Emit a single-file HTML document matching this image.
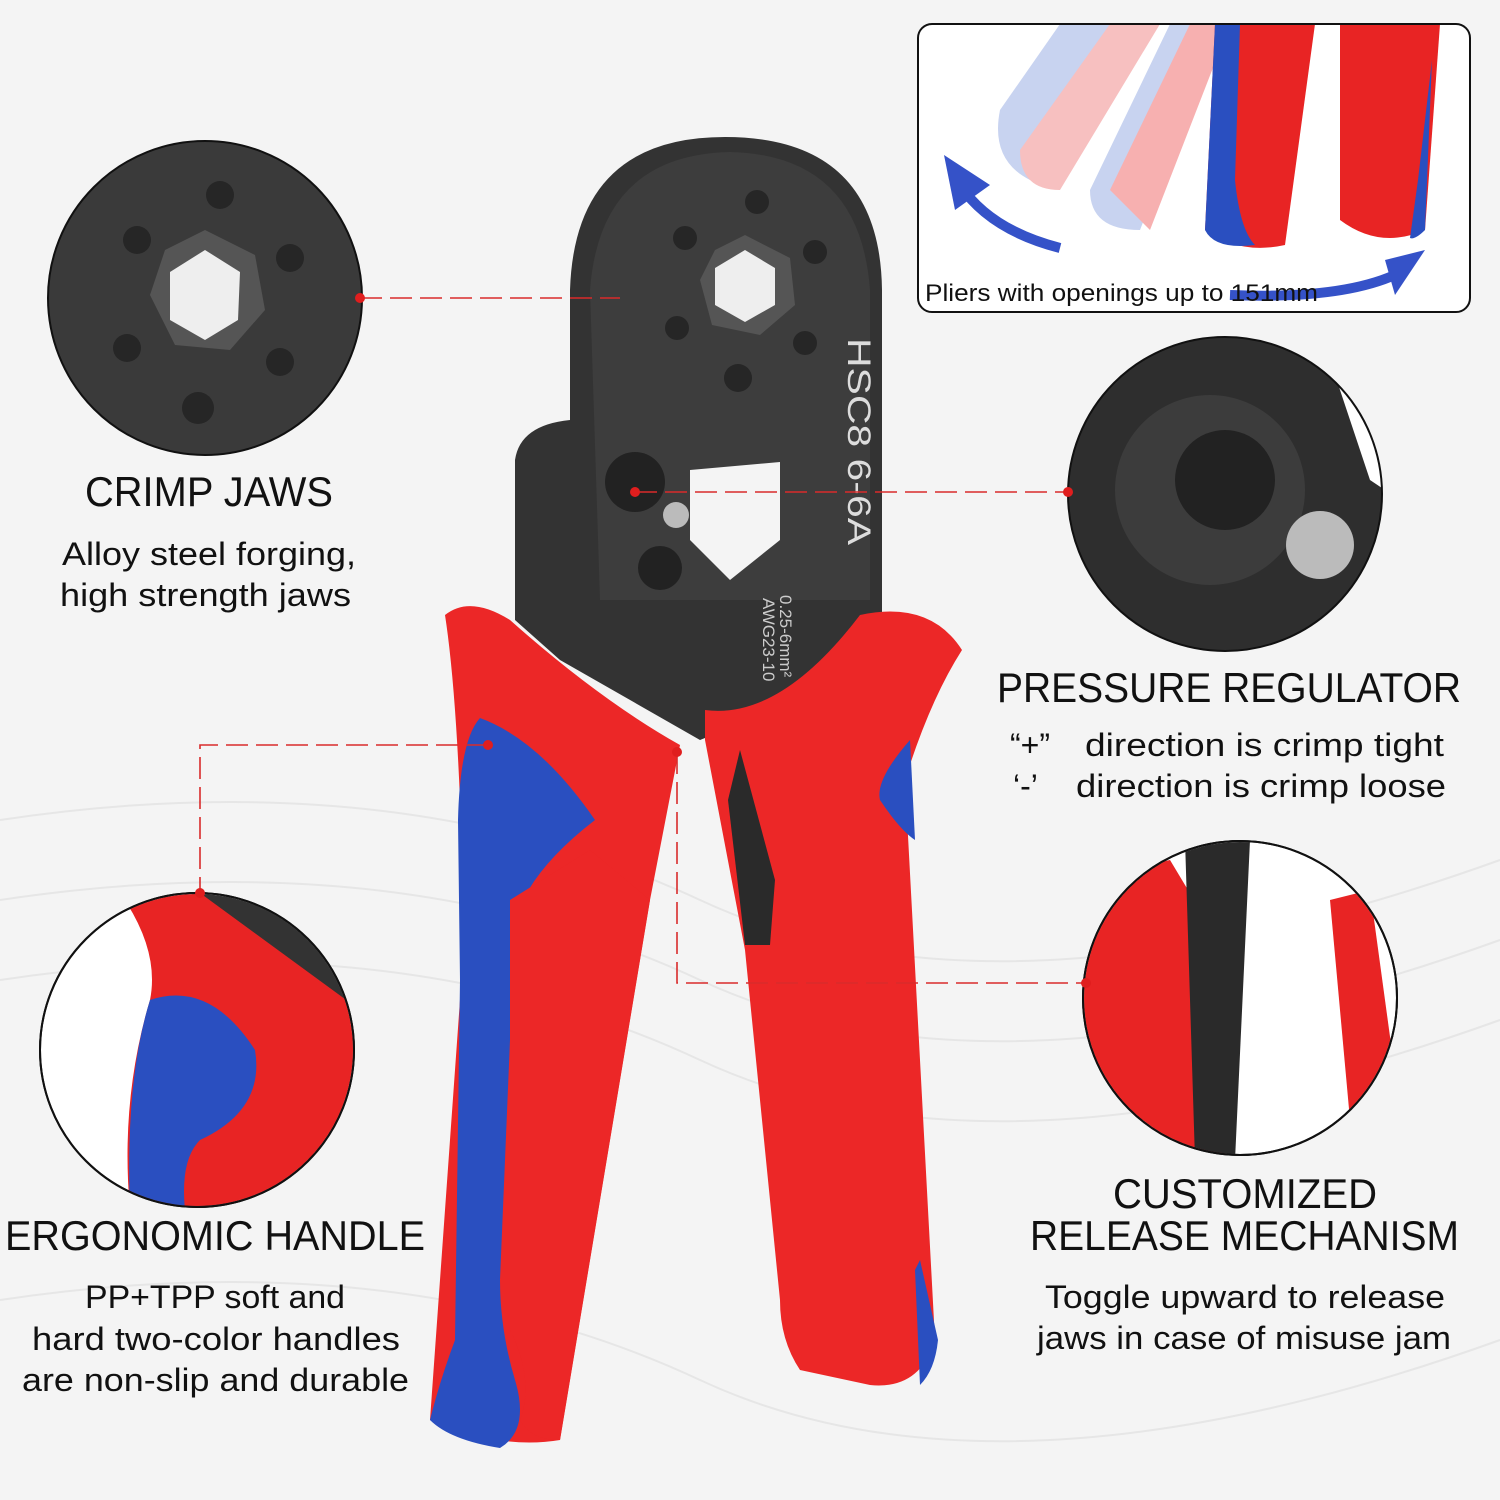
<!DOCTYPE html>
<html><head><meta charset="utf-8"><style>
html,body{margin:0;padding:0;background:#f4f4f4}
svg{display:block}
text{font-family:"Liberation Sans",sans-serif;fill:#111}
</style></head><body>
<svg width="1500" height="1500" viewBox="0 0 1500 1500" xmlns="http://www.w3.org/2000/svg">
<defs>
<clipPath id="c2"><circle cx="1225" cy="494" r="156"/></clipPath>
<clipPath id="c3"><circle cx="1240" cy="998" r="156"/></clipPath>
<clipPath id="c4"><circle cx="197" cy="1050" r="156"/></clipPath>
<clipPath id="box"><rect x="918" y="24" width="552" height="288" rx="14"/></clipPath>
</defs>
<rect width="1500" height="1500" fill="#f4f4f4"/>
<g stroke="#e6e6e6" stroke-width="2" fill="none">
<path d="M0 820 Q400 760 700 900 T1500 860"/><path d="M0 900 Q400 840 700 980 T1500 940"/>
<path d="M0 980 Q400 920 700 1060 T1500 1020"/><path d="M0 1300 Q400 1240 700 1380 T1500 1340"/>
</g>

<g clip-path="url(#box)">
<rect x="918" y="24" width="552" height="288" fill="#fff"/>
<path d="M1000 110 L1060 24 L1130 24 L1030 180 Q990 160 1000 110Z" fill="#c8d3f0"/>
<path d="M1020 150 L1110 24 L1160 24 L1060 190 Q1020 190 1020 150Z" fill="#f7c0c0"/>
<path d="M1090 190 L1170 24 L1220 24 L1140 230 Q1090 230 1090 190Z" fill="#c8d3f0"/>
<path d="M1110 190 L1190 24 L1230 24 L1150 230 Z" fill="#f7b0b0"/>
<path d="M1215 24 L1315 24 L1285 245 Q1240 255 1205 230 Z" fill="#e82424"/>
<path d="M1215 24 L1240 24 L1235 180 Q1240 230 1255 245 Q1215 250 1205 230Z" fill="#2a4fc0"/>
<path d="M1340 24 L1440 24 L1425 230 Q1380 250 1340 220 Z" fill="#e82424"/>
<path d="M1418 180 L1432 60 L1425 230 Q1415 240 1410 238Z" fill="#2a4fc0"/>
</g>
<path d="M1060 248 Q990 230 960 185" stroke="#3552c8" stroke-width="10" fill="none"/>
<path d="M944 155 L990 185 L955 210Z" fill="#3552c8"/>
<path d="M1230 295 Q1350 300 1405 270" stroke="#3552c8" stroke-width="10" fill="none"/>
<path d="M1425 250 L1395 295 L1385 260Z" fill="#3552c8"/>
<rect x="918" y="24" width="552" height="288" rx="14" fill="none" stroke="#111" stroke-width="2"/>
<text x="925" y="301" font-size="24" textLength="393" lengthAdjust="spacingAndGlyphs">Pliers with openings up to 151mm</text>

<circle cx="205" cy="298" r="157" fill="#3a3a3a" stroke="#111" stroke-width="2"/>
<g fill="#262626"><circle cx="220" cy="195" r="14"/><circle cx="137" cy="240" r="14"/><circle cx="290" cy="258" r="14"/><circle cx="127" cy="348" r="14"/><circle cx="280" cy="362" r="14"/><circle cx="198" cy="408" r="16"/></g>
<polygon points="205,230 255,255 265,310 230,350 175,345 150,295 165,250" fill="#555"/>
<polygon points="205,250 240,272 238,320 205,340 170,320 170,272" fill="#eee"/>
<text x="85" y="506" font-size="42" textLength="248" lengthAdjust="spacingAndGlyphs">CRIMP JAWS</text>
<text x="62" y="565" font-size="32" textLength="294" lengthAdjust="spacingAndGlyphs">Alloy steel forging,</text>
<text x="60" y="606" font-size="32" textLength="291" lengthAdjust="spacingAndGlyphs">high strength jaws</text>

<circle cx="1225" cy="494" r="157" fill="#2e2e2e" stroke="#111" stroke-width="2"/>
<g clip-path="url(#c2)">
<path d="M1330 360 L1400 360 L1400 500 L1370 480 Q1350 420 1330 360Z" fill="#fff"/>
<circle cx="1210" cy="490" r="95" fill="#3c3c3c"/>
<circle cx="1225" cy="480" r="50" fill="#222"/>
<circle cx="1320" cy="545" r="34" fill="#bbb"/>
</g>
<text x="997" y="702" font-size="42" textLength="464" lengthAdjust="spacingAndGlyphs">PRESSURE REGULATOR</text>
<text x="1010" y="756" font-size="32">“+”</text><text x="1085" y="756" font-size="32" textLength="359" lengthAdjust="spacingAndGlyphs">direction is crimp tight</text>
<text x="1013" y="797" font-size="32">‘-’</text><text x="1076" y="797" font-size="32" textLength="370" lengthAdjust="spacingAndGlyphs">direction is crimp loose</text>

<circle cx="1240" cy="998" r="157" fill="#fff" stroke="#111" stroke-width="2"/>
<g clip-path="url(#c3)">
<path d="M1080 880 L1170 860 L1230 960 L1225 1160 L1080 1160Z" fill="#e82424"/>
<path d="M1185 840 L1250 840 L1235 1160 L1195 1160 Z" fill="#2a2a2a"/>
<path d="M1330 900 L1370 890 L1400 1110 L1350 1120Z" fill="#e82424"/>
</g>
<circle cx="1240" cy="998" r="157" fill="none" stroke="#111" stroke-width="2"/>
<text x="1113" y="1208" font-size="42" textLength="264" lengthAdjust="spacingAndGlyphs">CUSTOMIZED</text>
<text x="1030" y="1250" font-size="42" textLength="429" lengthAdjust="spacingAndGlyphs">RELEASE MECHANISM</text>
<text x="1045" y="1308" font-size="32" textLength="400" lengthAdjust="spacingAndGlyphs">Toggle upward to release</text>
<text x="1037" y="1349" font-size="32" textLength="414" lengthAdjust="spacingAndGlyphs">jaws in case of misuse jam</text>

<circle cx="197" cy="1050" r="157" fill="#fff" stroke="#111" stroke-width="2"/>
<g clip-path="url(#c4)">
<path d="M190 893 L360 893 L360 1010 Z" fill="#333"/>
<path d="M120 893 L200 893 L360 1010 L360 1210 L130 1210 Q120 1100 150 1000 Q160 950 120 893Z" fill="#e82424"/>
<path d="M150 1000 Q210 980 255 1050 Q265 1110 200 1140 Q180 1160 185 1210 L130 1210 Q125 1080 150 1000Z" fill="#2a4fc0"/>
</g>
<circle cx="197" cy="1050" r="157" fill="none" stroke="#111" stroke-width="2"/>
<text x="5" y="1250" font-size="42" textLength="420" lengthAdjust="spacingAndGlyphs">ERGONOMIC HANDLE</text>
<text x="85" y="1308" font-size="32" textLength="260" lengthAdjust="spacingAndGlyphs">PP+TPP soft and</text>
<text x="32" y="1350" font-size="32" textLength="368" lengthAdjust="spacingAndGlyphs">hard two-color handles</text>
<text x="22" y="1391" font-size="32" textLength="387" lengthAdjust="spacingAndGlyphs">are non-slip and durable</text>

<path d="M515 460 Q520 425 570 420 L570 290 Q575 137 725 137 Q880 137 882 290 L882 640 L800 700 L700 740 L560 660 L515 620Z" fill="#333"/>
<path d="M590 290 Q600 155 730 152 Q860 155 870 290 L870 600 L600 600Z" fill="#3d3d3d"/>
<g fill="#262626"><circle cx="757" cy="202" r="12"/><circle cx="685" cy="238" r="12"/><circle cx="815" cy="252" r="12"/><circle cx="677" cy="328" r="12"/><circle cx="805" cy="343" r="12"/><circle cx="738" cy="378" r="14"/></g>
<polygon points="745,235 790,258 795,305 760,335 712,325 700,280 715,250" fill="#555"/>
<polygon points="745,250 775,268 775,305 745,322 715,305 715,268" fill="#eee"/>
<path d="M690 470 L780 462 L780 540 L730 580 L690 540Z" fill="#f4f4f4"/>
<circle cx="635" cy="482" r="30" fill="#222"/><circle cx="660" cy="568" r="22" fill="#222"/>
<circle cx="676" cy="515" r="13" fill="#bbb"/>
<text x="0" y="0" font-size="32" transform="translate(848,338) rotate(90)" style="fill:#ddd" textLength="207" lengthAdjust="spacingAndGlyphs">HSC8 6-6A</text>
<text x="0" y="0" font-size="17" transform="translate(780,595) rotate(90)" style="fill:#ccc">0.25-6mm²</text>
<text x="0" y="0" font-size="17" transform="translate(763,598) rotate(90)" style="fill:#ccc">AWG23-10</text>

<path d="M705 710 Q780 720 860 615 Q930 600 962 650 Q930 700 905 780 L935 1340 Q920 1390 870 1385 L800 1370 Q780 1340 780 1300 L745 950 L705 740Z" fill="#ec2727"/>
<path d="M910 740 Q875 780 880 800 Q900 830 915 840Z" fill="#2a4fc0"/>
<path d="M920 1260 L938 1340 Q935 1370 920 1385 L915 1270Z" fill="#2a4fc0"/>
<path d="M740 750 L775 880 L770 945 L745 945 L728 800Z" fill="#2a2a2a"/>
<path d="M445 615 Q470 595 510 620 Q600 700 680 745 L650 900 L560 1440 Q500 1450 430 1420 L460 1000 L460 800 Q455 680 445 615Z" fill="#ec2727"/>
<path d="M480 718 Q540 740 595 820 Q530 870 515 920 L500 1280 Q500 1330 515 1380 Q530 1430 500 1448 Q450 1440 430 1420 Q440 1380 455 1340 L460 980 L458 820 Q460 740 480 718Z" fill="#2a4fc0"/>
<path d="M510 900 L590 850 L650 900 L560 1440 Q530 1440 520 1420 Q535 1380 510 1330 Z" fill="#ec2727"/>

<g stroke="#d92b2b" stroke-width="1.6" stroke-dasharray="22,8" fill="none">
<path d="M360 298 L620 298"/>
<path d="M635 492 L1068 492"/>
<path d="M488 745 L200 745 L200 893"/>
<path d="M677 752 L677 983 L1086 983"/>
</g>
<g fill="#e01e1e">
<circle cx="360" cy="298" r="5"/><circle cx="635" cy="492" r="5"/><circle cx="1068" cy="492" r="5"/>
<circle cx="488" cy="745" r="5"/><circle cx="200" cy="893" r="5"/><circle cx="677" cy="752" r="5"/><circle cx="1086" cy="983" r="5"/>
</g>
</svg>
</body></html>
